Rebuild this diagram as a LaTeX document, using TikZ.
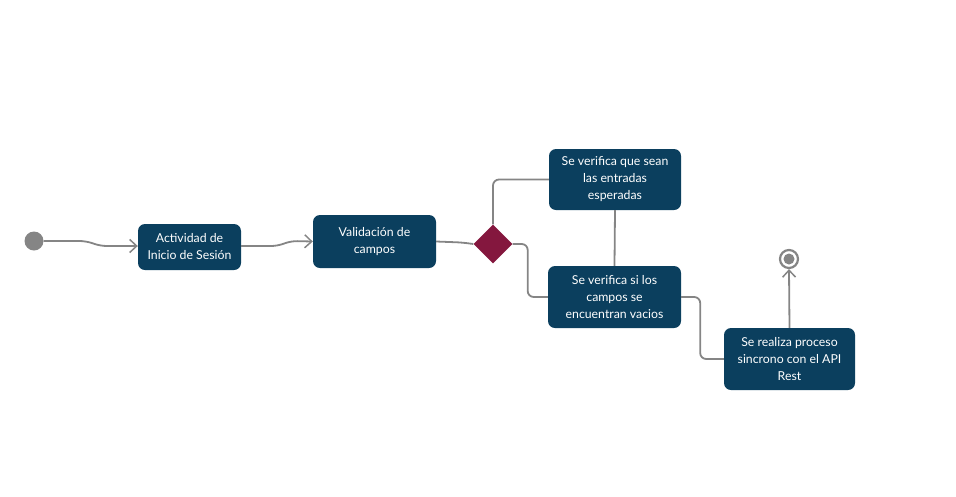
\documentclass[tikz,border=0pt]{standalone}
\usepackage{fontspec}
\setmainfont{Lato}
\usetikzlibrary{arrows.meta,shapes.geometric,calc}
\definecolor{boxblue}{HTML}{0B3F5E}
\definecolor{linegray}{HTML}{858585}
\definecolor{decisionred}{HTML}{84173E}
\tikzset{
  actbox/.style={draw=none, fill=boxblue, rounded corners=7pt, text=white,
    align=center, font=\fontsize{12.3}{17}\selectfont, inner sep=0pt},
  flow/.style={draw=linegray, line width=1.8pt, rounded corners=6pt},
  chev/.style={-{Straight Barb[length=7pt,width=13pt,line width=1.5pt]}},
}
\begin{document}
\begin{tikzpicture}[x=1pt,y=-1pt]
\useasboundingbox (0,0) rectangle (956,496);
% start and end markers
\node[circle, fill=linegray, minimum size=19pt, inner sep=0pt] (start) at (34,241) {};
\node[circle, draw=linegray, line width=2.2pt, fill=white, minimum size=18pt, inner sep=0pt] (finish) at (789,259) {};
\fill[linegray] (finish) circle (5.5pt);
% activities
\node[actbox, minimum width=103pt, minimum height=46pt] (login) at (189.5,247) {Actividad de\\Inicio de Sesión};
\node[actbox, minimum width=123pt, minimum height=53pt] (validate) at (374.5,241.5) {Validación de\\campos};
\node[diamond, fill=decisionred, minimum width=39pt, minimum height=39pt, inner sep=0pt] (choice) at (493,244) {};
\node[actbox, minimum width=132pt, minimum height=61pt] (expected) at (615,179.5) {Se verifica que sean\\las entradas\\esperadas};
\node[actbox, minimum width=133pt, minimum height=62pt] (empty) at (614.5,297) {Se verifica si los\\campos se\\encuentran vacios};
\node[actbox, minimum width=131pt, minimum height=62pt] (sync) at (789.5,359) {Se realiza proceso\\sincrono con el API\\Rest};
% connectors
\draw[flow, chev] (start.east) -- ($(start.east)+(42,0)$) -- ($(start.east)+(57,5)$) -- (login.west |- 0,246);
\draw[flow, chev] (login.east |- 0,246) -- ($(login.east |- 0,246)+(36,0)$) -- ($(login.east |- 0,246)+(50,-5)$) -- (validate.west);
\draw[flow] (validate.east) -- ($(validate.east)+(26,1)$) -- (choice.west);
\draw[flow] (choice.north) -- (choice.north |- expected.west) -- (expected.west);
\draw[flow] (choice.east) -- ($(choice.east)+(15,0)$) |- (empty.west);
\draw[flow] (expected.south) -- (empty.north);
\draw[flow] (empty.east) -- ($(empty.east)+(19,0)$) |- (sync.west);
\draw[flow, chev] (sync.north) -- (finish.south);
\end{tikzpicture}
\end{document}
